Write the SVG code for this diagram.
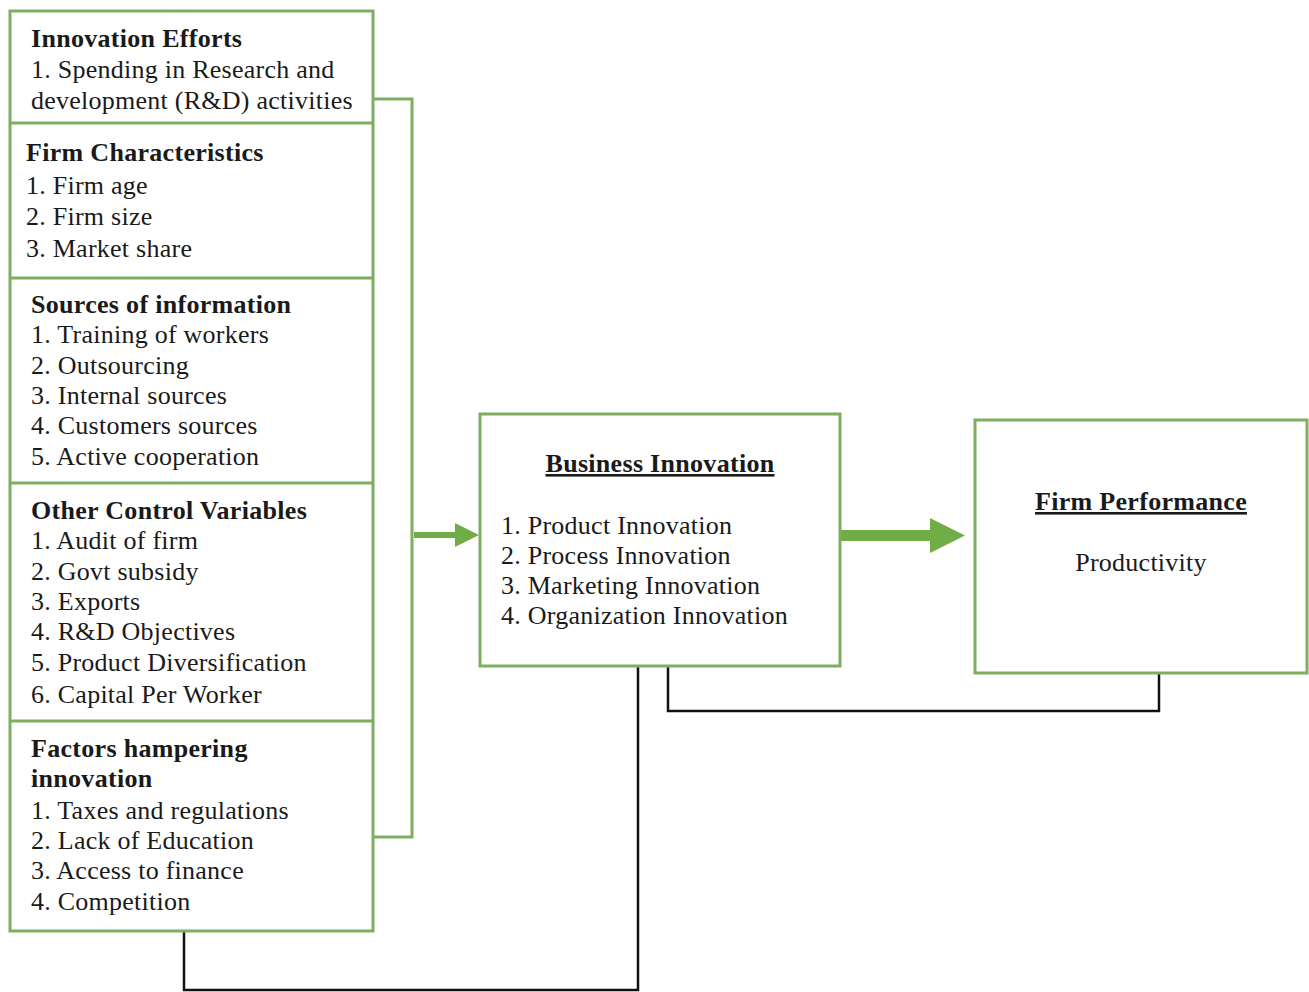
<svg xmlns="http://www.w3.org/2000/svg" width="1309" height="992" viewBox="0 0 1309 992">
<style>
.box{fill:#fff;stroke:#7eae5e;stroke-width:3}
.div{stroke:#7eae5e;stroke-width:3}
text{font-family:"Liberation Serif","Times New Roman",serif;font-size:26px;fill:#1a1a1a;letter-spacing:0.25px}
.b{font-weight:bold;letter-spacing:0.3px}
.u{text-decoration:underline}
.blk{fill:none;stroke:#111;stroke-width:2.5}
.grn{fill:none;stroke:#7eae5e;stroke-width:3}
.arr{fill:#70ad47}
</style>
<rect width="1309" height="992" fill="#fff"/>
<g id="connectors">
<polyline class="grn" points="373,99 412,99 412,837 373,837"/>
<rect class="arr" x="414" y="532" width="44" height="6"/>
<polygon class="arr" points="455,523 479,535 455,547"/>
<rect class="arr" x="841" y="530" width="92" height="11"/>
<polygon class="arr" points="930,518 965,535.5 930,553"/>
<polyline class="blk" points="184,931 184,990 638,990 638,666"/>
<polyline class="blk" points="668,666 668,711 1159,711 1159,673"/>
</g>
<g id="left-column">
<rect class="box" x="10" y="11" width="363" height="920"/>
<line class="div" x1="10" y1="123" x2="373" y2="123"/>
<line class="div" x1="10" y1="278" x2="373" y2="278"/>
<line class="div" x1="10" y1="483" x2="373" y2="483"/>
<line class="div" x1="10" y1="721" x2="373" y2="721"/>
</g>
<g id="innovation-efforts">
<text class="b" x="31" y="47">Innovation Efforts</text>
<text x="31" y="78">1. Spending in Research and</text>
<text x="31" y="109">development (R&amp;D) activities</text>
</g>
<g id="firm-characteristics">
<text class="b" x="26" y="161">Firm Characteristics</text>
<text x="26" y="194">1. Firm age</text>
<text x="26" y="225">2. Firm size</text>
<text x="26" y="257">3. Market share</text>
</g>
<g id="sources-of-information">
<text class="b" x="31" y="313">Sources of information</text>
<text x="31" y="343">1. Training of workers</text>
<text x="31" y="374">2. Outsourcing</text>
<text x="31" y="404">3. Internal sources</text>
<text x="31" y="434">4. Customers sources</text>
<text x="31" y="465">5. Active cooperation</text>
</g>
<g id="other-control-variables">
<text class="b" x="31" y="519">Other Control Variables</text>
<text x="31" y="549">1. Audit of firm</text>
<text x="31" y="580">2. Govt subsidy</text>
<text x="31" y="610">3. Exports</text>
<text x="31" y="640">4. R&amp;D Objectives</text>
<text x="31" y="671">5. Product Diversification</text>
<text x="31" y="703">6. Capital Per Worker</text>
</g>
<g id="factors-hampering-innovation">
<text class="b" x="31" y="757">Factors hampering</text>
<text class="b" x="31" y="787">innovation</text>
<text x="31" y="819">1. Taxes and regulations</text>
<text x="31" y="849">2. Lack of Education</text>
<text x="31" y="879">3. Access to finance</text>
<text x="31" y="910">4. Competition</text>
</g>
<g id="business-innovation">
<rect class="box" x="480" y="414" width="360" height="252"/>
<text class="b u" x="660" y="472" text-anchor="middle">Business Innovation</text>
<text x="501" y="534">1. Product Innovation</text>
<text x="501" y="564">2. Process Innovation</text>
<text x="501" y="594">3. Marketing Innovation</text>
<text x="501" y="624">4. Organization Innovation</text>
</g>
<g id="firm-performance">
<rect class="box" x="975" y="420" width="332" height="253"/>
<text class="b u" x="1141" y="510" text-anchor="middle">Firm Performance</text>
<text x="1141" y="571" text-anchor="middle">Productivity</text>
</g>
</svg>
